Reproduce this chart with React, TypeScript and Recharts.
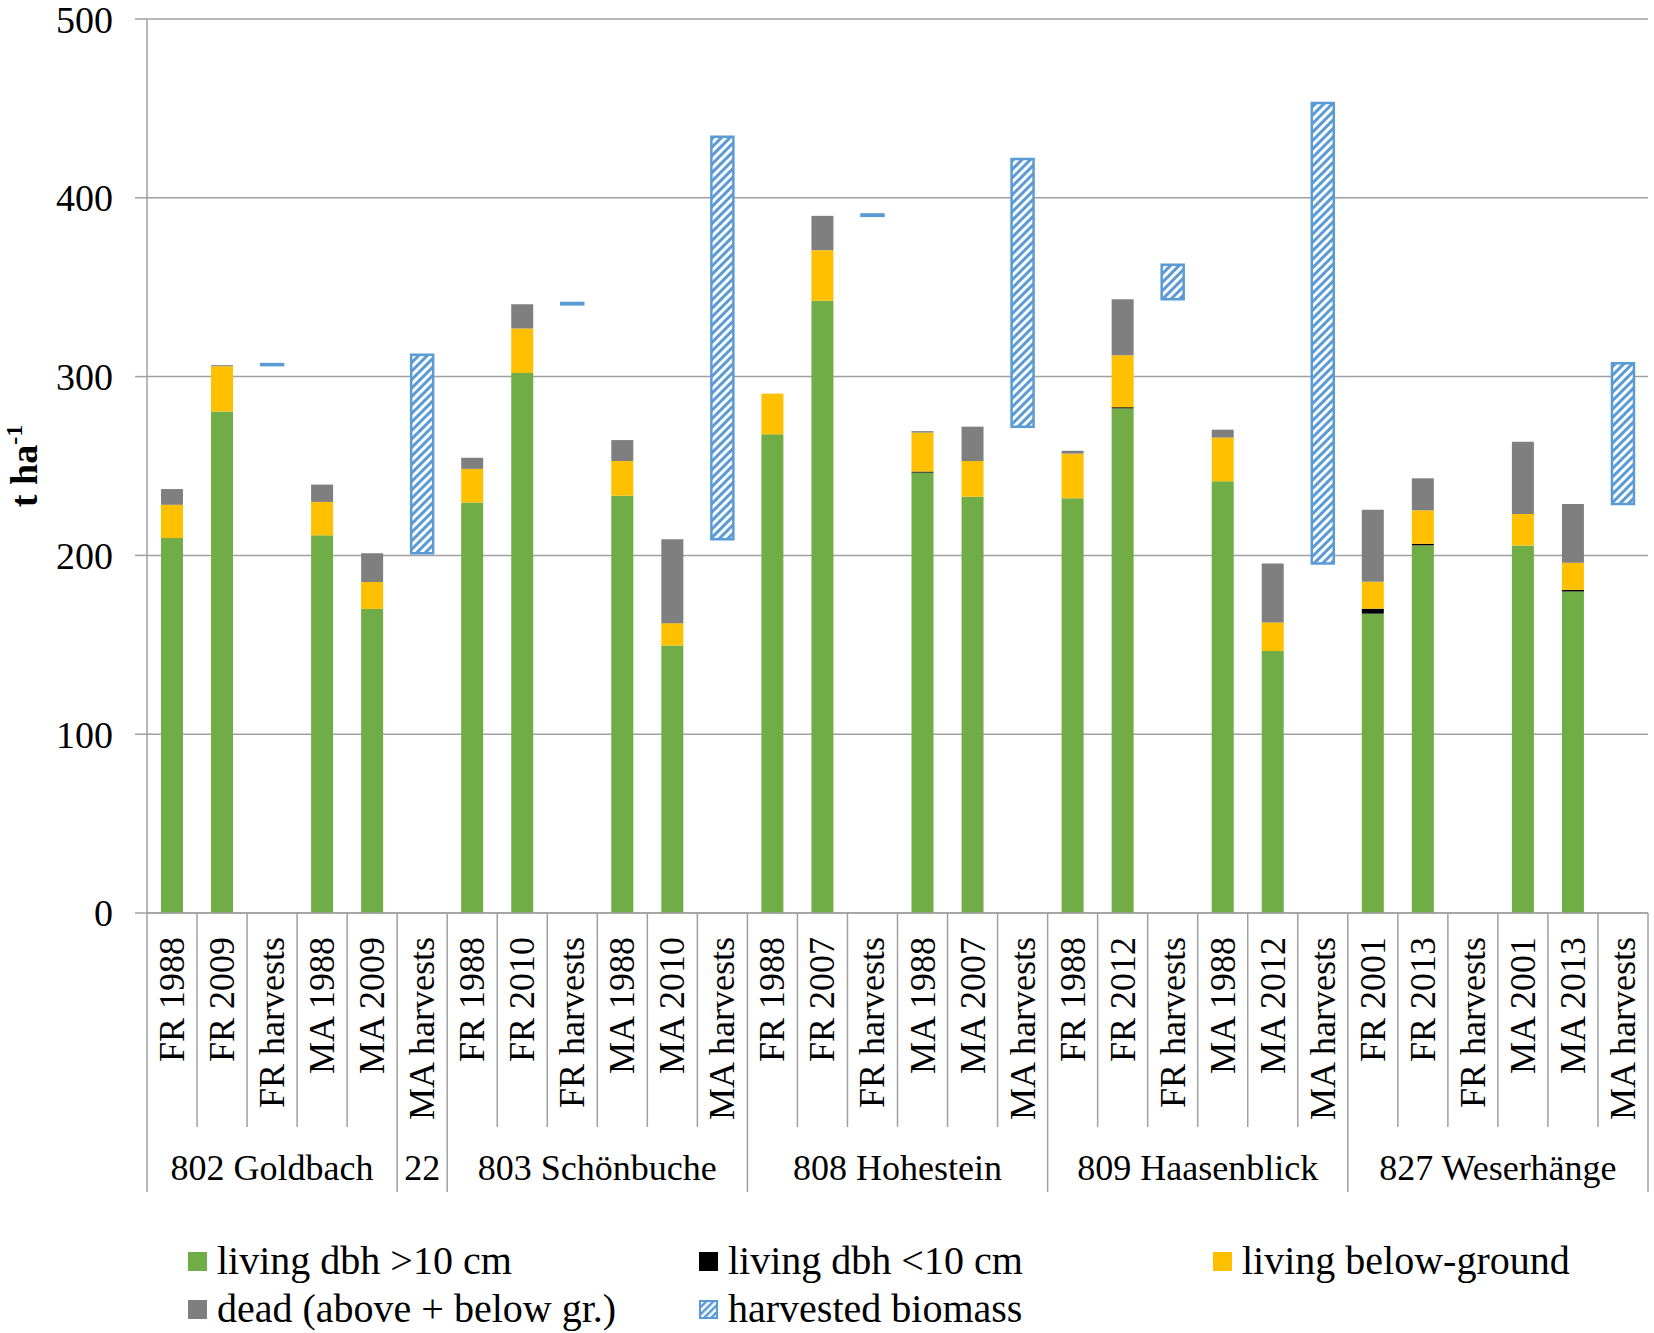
import React from 'react';
import { ComposedChart, Bar, XAxis, YAxis, CartesianGrid, Legend } from 'recharts';

// ---------- data ----------
const categoryLabels = [
  'FR 1988', 'FR 2009', 'FR harvests', 'MA 1988', 'MA 2009',
  'MA harvests',
  'FR 1988', 'FR 2010', 'FR harvests', 'MA 1988', 'MA 2010', 'MA harvests',
  'FR 1988', 'FR 2007', 'FR harvests', 'MA 1988', 'MA 2007', 'MA harvests',
  'FR 1988', 'FR 2012', 'FR harvests', 'MA 1988', 'MA 2012', 'MA harvests',
  'FR 2001', 'FR 2013', 'FR harvests', 'MA 2001', 'MA 2013', 'MA harvests',
];
const groupLabels = ['802 Goldbach', '22', '803 Schönbuche', '808 Hohestein', '809 Haasenblick', '827 Weserhänge'];
const groupSizes = [5, 1, 6, 6, 6, 6];

const livingLarge = [
  209.7, 280.5, 0, 211.2, 170.1,
  0,
  229.6, 302.0, 0, 233.4, 149.6, 0,
  267.7, 342.4, 0, 246.3, 232.8, 0,
  231.9, 282.2, 0, 241.5, 146.5, 0,
  167.4, 205.6, 0, 205.6, 179.8, 0,
];
const livingSmall = [
  0, 0, 0, 0, 0,
  0,
  0, 0, 0, 0, 0, 0,
  0, 0, 0, 0.6, 0, 0,
  0, 0.7, 0, 0, 0, 0,
  2.8, 0.9, 0, 0, 0.9, 0,
];
const livingBelow = [
  18.6, 25.3, 0, 18.7, 15.0,
  0,
  18.8, 24.9, 0, 19.4, 12.5, 0,
  22.8, 28.3, 0, 21.8, 20.0, 0,
  25.0, 29.1, 0, 24.4, 16.0, 0,
  15.0, 18.7, 0, 17.6, 15.2, 0,
];
const dead = [
  8.8, 0.6, 0, 9.7, 16.1,
  0,
  6.2, 13.5, 0, 11.7, 47.0, 0,
  0, 19.2, 0, 0.8, 19.2, 0,
  1.6, 31.3, 0, 4.4, 33.0, 0,
  40.3, 17.9, 0, 40.4, 32.9, 0,
];
const harvestBase = [
  0, 0, 306.4, 0, 0,
  201.2,
  0, 0, 340.4, 0, 0, 209.1,
  0, 0, 389.9, 0, 0, 272.0,
  0, 0, 343.3, 0, 0, 195.5,
  0, 0, 0, 0, 0, 228.8,
];
const harvested = [
  0, 0, 0.6, 0, 0,
  111.0,
  0, 0, 0.8, 0, 0, 225.0,
  0, 0, 0.8, 0, 0, 149.7,
  0, 0, 19.2, 0, 0, 257.5,
  0, 0, 0, 0, 0, 78.7,
];
const yTicks = [0, 100, 200, 300, 400, 500];

const legendItems = [
  { key: 'large', label: 'living dbh >10 cm' },
  { key: 'small', label: 'living dbh <10 cm' },
  { key: 'below', label: 'living below-ground' },
  { key: 'dead', label: 'dead (above + below gr.)' },
  { key: 'harvest', label: 'harvested biomass' },
];

// ---------- style / layout ----------
const W = 1654;
const H = 1333;
const MARGIN = { top: 19, right: 6, bottom: 0, left: 0 };
const Y_AXIS_W = 147;
const X_AXIS_H = 310;
const LEGEND_H = 110;
const N = categoryLabels.length;
const COL_W = (W - MARGIN.left - MARGIN.right - Y_AXIS_W) / N;

const GREEN = '#70AD47';
const BLACK = '#000000';
const YELLOW = '#FFC000';
const GRAY = '#7F7F7F';
const BLUE = '#5B9BD5';
const LINE = '#A0A0A0';
const FONT = '"Liberation Serif", "Times New Roman", serif';

const COLORS: Record<string, string> = {
  large: GREEN,
  small: BLACK,
  below: YELLOW,
  dead: GRAY,
  harvest: BLUE,
};

const data = categoryLabels.map((label, i) => ({
  id: `c${i}`,
  label,
  base: harvestBase[i],
  large: livingLarge[i],
  small: livingSmall[i],
  below: livingBelow[i],
  dead: dead[i],
  harvest: harvested[i],
}));

const groupStart: Record<number, number> = {};
{
  let s = 0;
  groupSizes.forEach((g, gi) => {
    groupStart[s] = gi;
    s += g;
  });
}

const XTick = (props: any) => {
  const { x, y, index } = props;
  const half = COL_W / 2;
  const gi = groupStart[index];
  const isGroupStart = gi !== undefined;
  const innerLen = 214;
  const groupLen = 279;
  return (
    <g>
      <line
        x1={x - half}
        x2={x - half}
        y1={y}
        y2={y + (isGroupStart ? groupLen : innerLen)}
        stroke={LINE}
        strokeWidth={1.5}
      />
      {index === N - 1 && (
        <line x1={x + half} x2={x + half} y1={y} y2={y + groupLen} stroke={LINE} strokeWidth={1.5} />
      )}
      <text
        transform={`translate(${x + 12},${y + 24}) rotate(-90)`}
        textAnchor="end"
        fontFamily={FONT}
        fontSize={36}
        fill="#000"
      >
        {categoryLabels[index]}
      </text>
      {isGroupStart && (
        <text
          x={x + ((groupSizes[gi] - 1) / 2) * COL_W}
          y={y + 267}
          textAnchor="middle"
          fontFamily={FONT}
          fontSize={36}
          fill="#000"
        >
          {groupLabels[gi]}
        </text>
      )}
    </g>
  );
};

const YLabel = (props: any) => {
  const vb = props.viewBox || { x: 0, y: 0, width: 0, height: 0 };
  const cx = vb.x + 37;
  const cy = vb.y + vb.height / 2;
  return (
    <text
      transform={`translate(${cx},${cy}) rotate(-90)`}
      textAnchor="middle"
      fontFamily={FONT}
      fontSize={38}
      fontWeight="bold"
      fill="#000"
    >
      t ha
      <tspan dy={-15} fontSize={24}>-1</tspan>
    </text>
  );
};

const Marker = ({ k }: { k: string }) => (
  <svg width={19} height={19} style={{ display: 'block' }}>
    {k === 'harvest' ? (
      <>
        <defs>
          <pattern id="hatchLegend" patternUnits="userSpaceOnUse" width={5} height={5} patternTransform="rotate(45)">
            <rect x={0} y={0} width={2.5} height={5} fill={BLUE} />
          </pattern>
        </defs>
        <rect x={1} y={1} width={17} height={17} fill="#fff" />
        <rect x={1} y={1} width={17} height={17} fill="url(#hatchLegend)" stroke={BLUE} strokeWidth={2} />
      </>
    ) : (
      <rect x={0} y={0} width={19} height={19} fill={COLORS[k]} />
    )}
  </svg>
);

const legendPos = [
  { left: 188, top: 28 },
  { left: 699, top: 28 },
  { left: 1213, top: 28 },
  { left: 188, top: 76 },
  { left: 699, top: 76 },
];

const renderLegend = () => (
  <div style={{ position: 'relative', width: W, height: LEGEND_H }}>
    {legendItems.map((it, i) => (
      <div
        key={it.key}
        style={{
          position: 'absolute',
          left: legendPos[i].left,
          top: legendPos[i].top - 13,
          height: 46,
          display: 'flex',
          alignItems: 'center',
          whiteSpace: 'nowrap',
        }}
      >
        <Marker k={it.key} />
        <span style={{ fontFamily: FONT, fontSize: 40, color: '#000', marginLeft: 10, lineHeight: '46px' }}>
          {it.label}
        </span>
      </div>
    ))}
  </div>
);

export default function App() {
  return (
    <div style={{ position: 'absolute', left: 0, top: 0, width: W, height: H, background: '#fff' }}>
      <ComposedChart width={W} height={H} data={data} margin={MARGIN} barSize={22}>
        <defs>
          <pattern id="hatch" patternUnits="userSpaceOnUse" width={6} height={6} patternTransform="rotate(45)">
            <rect x={0} y={0} width={6} height={6} fill="#fff" />
            <rect x={0} y={0} width={3} height={6} fill={BLUE} />
          </pattern>
        </defs>
        <CartesianGrid horizontal vertical={false} stroke={LINE} strokeWidth={1.5} />
        <XAxis
          dataKey="id"
          interval={0}
          height={X_AXIS_H}
          tickLine={false}
          tickSize={0}
          tickMargin={0}
          axisLine={{ stroke: LINE, strokeWidth: 1.5 }}
          tick={<XTick />}
        />
        <YAxis
          width={Y_AXIS_W}
          domain={[0, 500]}
          ticks={yTicks}
          interval={0}
          tickSize={12}
          tickMargin={22}
          axisLine={{ stroke: LINE, strokeWidth: 1.5 }}
          tickLine={{ stroke: LINE, strokeWidth: 1.5 }}
          tick={{ fontFamily: FONT, fontSize: 38, fill: '#000' }}
          label={{ content: (p: any) => <YLabel {...p} /> }}
        />
        <Legend verticalAlign="bottom" align="left" content={renderLegend} wrapperStyle={{ left: 0, width: W, height: LEGEND_H }} />
        <Bar dataKey="base" stackId="a" fill="transparent" isAnimationActive={false} legendType="none" />
        <Bar dataKey="large" stackId="a" fill={GREEN} isAnimationActive={false} />
        <Bar dataKey="small" stackId="a" fill={BLACK} isAnimationActive={false} />
        <Bar dataKey="below" stackId="a" fill={YELLOW} isAnimationActive={false} />
        <Bar dataKey="dead" stackId="a" fill={GRAY} isAnimationActive={false} />
        <Bar
          dataKey="harvest"
          stackId="a"
          fill="url(#hatch)"
          stroke={BLUE}
          strokeWidth={2.5}
          isAnimationActive={false}
        />
      </ComposedChart>
    </div>
  );
}
